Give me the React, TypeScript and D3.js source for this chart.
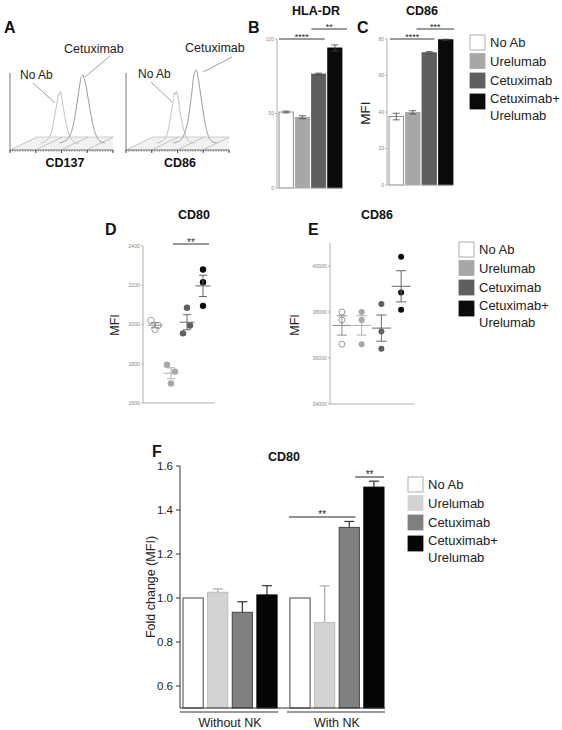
import React from 'react';
import * as d3 from 'd3';

const FONT = "'Liberation Sans', Arial, Helvetica, sans-serif";

// ---------------- Data ----------------
const treatments = ['No Ab', 'Urelumab', 'Cetuximab', 'Cetuximab+Urelumab'];
const legendLines = [['No Ab'], ['Urelumab'], ['Cetuximab'], ['Cetuximab+', 'Urelumab']];

// Panel A – flow cytometry histograms (fluorescence channel, events)
const cd137NoAbChannel = [30, 34, 37, 40, 42, 44, 46, 47, 48, 49, 50, 52, 54, 57, 60, 63, 67];
const cd137NoAbCount = [0, 2, 6, 15, 28, 45, 62, 72, 70, 76, 68, 50, 32, 14, 5, 1, 0];
const cd137CetChannel = [48, 52, 56, 59, 62, 64, 66, 68, 69, 70, 71, 72, 74, 76, 79, 82, 85, 88, 92];
const cd137CetCount = [0, 2, 6, 14, 30, 48, 68, 88, 96, 98, 100, 95, 82, 64, 38, 18, 7, 2, 0];
const cd86NoAbChannel = [30, 34, 37, 40, 42, 44, 46, 47, 48, 49, 50, 52, 54, 57, 60, 63, 67];
const cd86NoAbCount = [0, 2, 5, 13, 27, 46, 64, 74, 71, 76, 70, 52, 33, 15, 5, 1, 0];
const cd86CetChannel = [46, 50, 54, 57, 60, 62, 64, 65, 66, 67, 68, 69, 70, 72, 75, 78, 81, 84, 88];
const cd86CetCount = [0, 2, 6, 15, 32, 52, 75, 90, 100, 105, 107, 104, 96, 76, 45, 20, 7, 2, 0];

// Panel B – HLA-DR MFI
const hlaMeans = [51, 47.5, 76.5, 94];
const hlaErr = [0.6, 1.0, 0.6, 2.0];
const hlaTicks = [0, 50, 100];
// Panel C – CD86 MFI
const cd86Means = [37.5, 39.8, 72.5, 79.6];
const cd86Err = [1.8, 0.9, 0.6, 0.3];
const cd86Ticks = [0, 20, 40, 60, 80];

// Panel D – CD80 MFI, individual donors
const dNoAb = [2020, 1975, 1995];
const dUrelumab = [1795, 1760, 1700];
const dCetuximab = [2085, 1995, 1955];
const dCombo = [2280, 2215, 2095];
const dJitter = [[-4, 0, 3], [-4, 4, 0], [0, 3, -4], [0, 0, 0]];
const dTicks = [1600, 1800, 2000, 2200, 2400];

// Panel E – CD86 MFI, individual donors
const eNoAb = [38000, 37650, 36600];
const eUrelumab = [38000, 37650, 36600];
const eCetuximab = [38350, 37150, 36400];
const eCombo = [40400, 38850, 38100];
const eTicks = [34000, 36000, 38000, 40000];

// Panel F – CD80 fold change
const nkGroups = ['Without NK', 'With NK'];
const fWithoutNK = [1.0, 1.026, 0.935, 1.014];
const fWithoutNKErr = [0, 0.015, 0.048, 0.042];
const fWithNK = [1.0, 0.889, 1.321, 1.504];
const fWithNKErr = [0, 0.166, 0.027, 0.027];
const fTicks = [0.6, 0.8, 1.0, 1.2, 1.4, 1.6];

// ---------------- Styles ----------------
const barColors = ['#ffffff', '#a7a7a7', '#5f5f5f', '#0b0b0b'];
const fColors = ['#ffffff', '#d3d3d3', '#808080', '#050505'];
const fStrokes = ['#444', '#bdbdbd', '#444', '#000'];
const meanColors = ['#8a8a8a', '#b0b0b0', '#6a6a6a', '#666'];

function Legend({ x, y, colors }: any) {
  const tops = [0, 18.5, 38, 59];
  return (
    <g>
      {legendLines.map((lines, i) => (
        <g key={i}>
          <rect x={x} y={y + tops[i]} width={15} height={15} fill={colors[i]}
            stroke={i === 0 ? '#9a9a9a' : colors[i]} strokeWidth={0.8} />
          {lines.length === 1 ? (
            <text x={x + 20} y={y + tops[i] + 12} fontSize={13} fill="#222">{lines[0]}</text>
          ) : (
            <>
              <text x={x + 20} y={y + tops[i] + 8.6} fontSize={13} fill="#222">{lines[0]}</text>
              <text x={x + 20} y={y + tops[i] + 25.6} fontSize={13} fill="#222">{lines[1]}</text>
            </>
          )}
        </g>
      ))}
    </g>
  );
}

function Histogram({ x0, noCh, noCt, ceCh, ceCt, marker, markerX }: any) {
  const hx = d3.scaleLinear().domain([0, 100]).range([x0, x0 + 103]);
  const hy = d3.scaleLinear().domain([0, 110]).range([143, 68]);
  const line = d3.line<number>().curve(d3.curveMonotoneX);
  const noPts = noCh.map((c: number, i: number) => [hx(c), hy(noCt[i])]);
  const cePts = ceCh.map((c: number, i: number) => [hx(c), hy(ceCt[i])]);
  const minor = d3.range(0, 100.01, 2.5);
  const major = [0, 25, 50, 75, 100];
  return (
    <g>
      <polygon points={`${x0 + 2},149 ${x0 + 27},137 ${x0 + 103},137 ${x0 + 103},149`} fill="#f1f1f1" />
      <line x1={x0 + 27} x2={x0 + 103} y1={137} y2={137} stroke="#c4c4c4" strokeWidth={0.8} />
      {[0, 1, 2, 3].map((p) => (
        <line key={p} x1={x0 + 2 + p * 25.5} y1={149} x2={x0 + 27 + p * 25.5} y2={137} stroke="#b5b5b5" strokeWidth={0.8} />
      ))}
      <path d={line(noPts as any) || ''} fill="none" stroke="#c2c2c2" strokeWidth={1} />
      <path d={line(cePts as any) || ''} fill="none" stroke="#9a9a9a" strokeWidth={1} />
      <line x1={x0} x2={x0} y1={73} y2={150} stroke="#555" strokeWidth={0.8} />
      <line x1={x0} x2={x0 + 103} y1={150} y2={150} stroke="#444" strokeWidth={0.8} />
      {minor.map((m) => (
        <line key={m} x1={hx(m)} x2={hx(m)} y1={150} y2={151.8} stroke="#666" strokeWidth={0.6} />
      ))}
      {major.map((m) => (
        <line key={'M' + m} x1={hx(m)} x2={hx(m)} y1={150} y2={153} stroke="#333" strokeWidth={0.9} />
      ))}
      <text x={markerX} y={167} textAnchor="middle" fontSize={12.5} fontWeight="bold" fill="#111">{marker}</text>
    </g>
  );
}

function SmallBars({ axisX, yTopPx, yBotPx, max, ticks, means, errs, xRange, sigs }: any) {
  const y = d3.scaleLinear().domain([0, max]).range([yBotPx, yTopPx]);
  const x = d3.scaleBand<string>().domain(treatments).range(xRange).paddingInner(0.12);
  const bw = x.bandwidth();
  return (
    <g>
      {means.map((m: number, i: number) => {
        const bx = x(treatments[i]) as number;
        const cx = bx + bw / 2;
        return (
          <g key={i}>
            <rect x={bx} y={y(m)} width={bw} height={y(0) - y(m)} fill={barColors[i]}
              stroke={i === 0 ? '#777' : barColors[i]} strokeWidth={0.8} />
            <line x1={cx} x2={cx} y1={y(m - errs[i])} y2={y(m + errs[i])} stroke="#444" strokeWidth={0.8} />
            <line x1={cx - 3.5} x2={cx + 3.5} y1={y(m + errs[i])} y2={y(m + errs[i])} stroke="#444" strokeWidth={0.8} />
            <line x1={cx - 3.5} x2={cx + 3.5} y1={y(m - errs[i])} y2={y(m - errs[i])} stroke="#444" strokeWidth={0.8} />
          </g>
        );
      })}
      <line x1={axisX} x2={axisX} y1={yTopPx} y2={yBotPx} stroke="#999" strokeWidth={0.8} />
      <line x1={axisX} x2={xRange[1]} y1={yBotPx} y2={yBotPx} stroke="#bbb" strokeWidth={0.6} />
      {ticks.map((t: number) => (
        <g key={t}>
          <line x1={axisX - 2} x2={axisX} y1={y(t)} y2={y(t)} stroke="#999" strokeWidth={0.7} />
          <text x={axisX - 3} y={y(t) + 1.8} fontSize={5} textAnchor="end" fill="#888">{t}</text>
        </g>
      ))}
      {sigs.map((s: any, i: number) => {
        const x1 = (x(treatments[s.a]) as number) + s.padL;
        const x2 = (x(treatments[s.b]) as number) + bw + s.padR;
        return (
          <g key={i}>
            <line x1={x1} x2={x2} y1={s.y} y2={s.y} stroke="#222" strokeWidth={0.9} />
            <text x={(x1 + x2) / 2} y={s.y + 1.2} fontSize={9} textAnchor="middle" fill="#222">{s.label}</text>
          </g>
        );
      })}
    </g>
  );
}

function DotPanel({ axisX, axisEnd, yTopPx, yBotPx, domain, ticks, xRange, groups, jitter, meanHalf, capHalf, r }: any) {
  const y = d3.scaleLinear().domain(domain).range([yBotPx, yTopPx]);
  const x = d3.scaleBand<string>().domain(treatments).range(xRange);
  const bw = x.bandwidth();
  return (
    <g>
      <line x1={axisX} x2={axisX} y1={yTopPx} y2={yBotPx} stroke="#999" strokeWidth={0.8} />
      <line x1={axisX} x2={axisEnd} y1={yBotPx} y2={yBotPx} stroke="#999" strokeWidth={0.8} />
      {ticks.map((t: number) => (
        <g key={t}>
          <line x1={axisX - 2} x2={axisX} y1={y(t)} y2={y(t)} stroke="#999" strokeWidth={0.7} />
          <text x={axisX - 3} y={y(t) + 1.8} fontSize={5.2} textAnchor="end" fill="#888">{t}</text>
        </g>
      ))}
      {groups.map((vals: number[], gi: number) => {
        const cx = (x(treatments[gi]) as number) + bw / 2;
        const m = d3.mean(vals) as number;
        const sem = (d3.deviation(vals) as number) / Math.sqrt(vals.length);
        return (
          <g key={gi}>
            {vals.map((v, i) => (
              <circle key={i} cx={cx + (jitter ? jitter[gi][i] : 0)} cy={y(v)} r={r}
                fill={gi === 0 ? '#fff' : barColors[gi]} stroke={gi === 0 ? '#999' : 'none'} strokeWidth={1} />
            ))}
            <line x1={cx - meanHalf} x2={cx + meanHalf} y1={y(m)} y2={y(m)} stroke={meanColors[gi]} strokeWidth={1} />
            <line x1={cx} x2={cx} y1={y(m - sem)} y2={y(m + sem)} stroke={meanColors[gi]} strokeWidth={1} />
            <line x1={cx - capHalf} x2={cx + capHalf} y1={y(m + sem)} y2={y(m + sem)} stroke={meanColors[gi]} strokeWidth={1} />
            <line x1={cx - capHalf} x2={cx + capHalf} y1={y(m - sem)} y2={y(m - sem)} stroke={meanColors[gi]} strokeWidth={1} />
          </g>
        );
      })}
    </g>
  );
}

function PanelF() {
  const fy = d3.scaleLinear().domain([0.5, 1.6]).range([708, 466]);
  const fx0 = d3.scaleBand<string>().domain(nkGroups).range([183, 384]).paddingInner(0.12);
  const fx1 = d3.scaleBand<string>().domain(treatments).range([0, fx0.bandwidth()]).paddingInner(0.18);
  const series = [
    { g: nkGroups[0], vals: fWithoutNK, errs: fWithoutNKErr },
    { g: nkGroups[1], vals: fWithNK, errs: fWithNKErr },
  ];
  const bw = fx1.bandwidth();
  const barX = (g: string, i: number) => (fx0(g) as number) + (fx1(treatments[i]) as number);
  const sig = [
    { g: 1, a: 0, b: 2, padL: -1, padR: -4, y: 517 },
    { g: 1, a: 2, b: 3, padL: 16, padR: 0, y: 477 },
  ];
  return (
    <g>
      {series.map((s) => s.vals.map((v, i) => {
        const bx = barX(s.g, i);
        const cx = bx + bw / 2;
        const top = fy(v + s.errs[i]);
        return (
          <g key={s.g + i}>
            {s.errs[i] > 0 && (
              <g>
                <line x1={cx} x2={cx} y1={fy(v)} y2={top} stroke={i === 1 ? '#aaa' : '#333'} strokeWidth={1.2} />
                <line x1={cx - 5} x2={cx + 5} y1={top} y2={top} stroke={i === 1 ? '#aaa' : '#333'} strokeWidth={1.2} />
              </g>
            )}
            <rect x={bx} y={fy(v)} width={bw} height={fy(0.5) - fy(v)} fill={fColors[i]} stroke={fStrokes[i]} strokeWidth={1} />
          </g>
        );
      }))}
      <line x1={180} x2={180} y1={466} y2={708} stroke="#333" strokeWidth={1} />
      <line x1={180} x2={385} y1={708} y2={708} stroke="#333" strokeWidth={1} />
      {fTicks.map((t) => (
        <g key={t}>
          <line x1={176} x2={180} y1={fy(t)} y2={fy(t)} stroke="#333" strokeWidth={1} />
          <text x={173} y={fy(t) + 4} fontSize={11.5} textAnchor="end" fill="#222">{d3.format('.1f')(t)}</text>
        </g>
      ))}
      {nkGroups.map((g) => {
        const gx = fx0(g) as number;
        return (
          <g key={g}>
            <line x1={gx - 3} x2={gx + fx0.bandwidth() + 1} y1={712} y2={712} stroke="#333" strokeWidth={1} />
            <text x={gx + fx0.bandwidth() / 2} y={727} fontSize={12.5} textAnchor="middle" fill="#222">{g}</text>
          </g>
        );
      })}
      {sig.map((s, i) => {
        const g = nkGroups[s.g];
        const x1 = barX(g, s.a) + s.padL;
        const x2 = barX(g, s.b) + bw + s.padR;
        return (
          <g key={i}>
            <line x1={x1} x2={x2} y1={s.y} y2={s.y} stroke="#222" strokeWidth={1} />
            <text x={(x1 + x2) / 2} y={s.y + 1} fontSize={10} textAnchor="middle" fill="#222">**</text>
          </g>
        );
      })}
      <text transform="translate(155,587) rotate(-90)" fontSize={12.5} textAnchor="middle" fill="#222">Fold change (MFI)</text>
      <text x={284} y={461} fontSize={12.5} fontWeight="bold" textAnchor="middle" fill="#111">CD80</text>
    </g>
  );
}

export default function App() {
  return (
    <svg width={562} height={730} viewBox="0 0 562 730"
      style={{ position: 'absolute', left: 0, top: 0, background: '#fff', fontFamily: FONT }}>
      <rect x={0} y={0} width={562} height={730} fill="#fff" />
      {/* Panel A */}
      <text x={4} y={33} fontSize={16} fontWeight="bold" fill="#111">A</text>
      <Histogram x0={10} noCh={cd137NoAbChannel} noCt={cd137NoAbCount} ceCh={cd137CetChannel} ceCt={cd137CetCount}
        marker="CD137" markerX={65} />
      <Histogram x0={126} noCh={cd86NoAbChannel} noCt={cd86NoAbCount} ceCh={cd86CetChannel} ceCt={cd86CetCount}
        marker="CD86" markerX={180} />
      <text x={20} y={79} fontSize={12} fill="#222">No Ab</text>
      <line x1={33} y1={83} x2={55} y2={103} stroke="#777" strokeWidth={0.7} />
      <text x={64} y={53} fontSize={12.5} fill="#222">Cetuximab</text>
      <line x1={110} y1={56} x2={85} y2={77} stroke="#777" strokeWidth={0.7} />
      <text x={138} y={78} fontSize={12} fill="#222">No Ab</text>
      <line x1={151} y1={82} x2={172} y2={102} stroke="#777" strokeWidth={0.7} />
      <text x={185} y={52} fontSize={12.5} fill="#222">Cetuximab</text>
      <line x1={232} y1={57} x2={203} y2={72} stroke="#777" strokeWidth={0.7} />

      {/* Panel B */}
      <text x={248} y={33} fontSize={16} fontWeight="bold" fill="#111">B</text>
      <text x={316} y={15} fontSize={12.5} fontWeight="bold" textAnchor="middle" fill="#111">HLA-DR</text>
      <SmallBars axisX={277} yTopPx={39} yBotPx={188} max={100} ticks={hlaTicks} means={hlaMeans} errs={hlaErr}
        xRange={[279, 342]}
        sigs={[{ a: 0, b: 2, padL: 0, padR: -1, y: 39, label: '****' }, { a: 2, b: 3, padL: 0, padR: 5, y: 29, label: '**' }]} />

      {/* Panel C */}
      <text x={357} y={33} fontSize={16} fontWeight="bold" fill="#111">C</text>
      <text x={422} y={15} fontSize={12.5} fontWeight="bold" textAnchor="middle" fill="#111">CD86</text>
      <text transform="translate(370,113) rotate(-90)" fontSize={13.5} textAnchor="middle" fill="#222">MFI</text>
      <SmallBars axisX={387} yTopPx={39} yBotPx={185} max={80} ticks={cd86Ticks} means={cd86Means} errs={cd86Err}
        xRange={[389, 453]}
        sigs={[{ a: 0, b: 2, padL: 1, padR: -2, y: 39, label: '****' }, { a: 1, b: 3, padL: 11, padR: 1, y: 29, label: '***' }]} />
      <Legend x={470} y={35} colors={barColors} />

      {/* Panel D */}
      <text x={105} y={235} fontSize={16} fontWeight="bold" fill="#111">D</text>
      <text x={194} y={219} fontSize={12.5} fontWeight="bold" textAnchor="middle" fill="#111">CD80</text>
      <text transform="translate(119,325) rotate(-90)" fontSize={12.5} textAnchor="middle" fill="#222">MFI</text>
      <DotPanel axisX={143} axisEnd={215} yTopPx={246} yBotPx={403} domain={[1600, 2400]} ticks={dTicks}
        xRange={[147, 211]} groups={[dNoAb, dUrelumab, dCetuximab, dCombo]} jitter={dJitter}
        meanHalf={7.5} capHalf={4} r={3.2} />
      <line x1={173} x2={209} y1={244} y2={244} stroke="#777" strokeWidth={1.4} />
      <text x={191} y={246} fontSize={10} textAnchor="middle" fill="#333">**</text>

      {/* Panel E */}
      <text x={308} y={235} fontSize={16} fontWeight="bold" fill="#111">E</text>
      <text x={377} y={219} fontSize={12.5} fontWeight="bold" textAnchor="middle" fill="#111">CD86</text>
      <text transform="translate(299,325) rotate(-90)" fontSize={12.5} textAnchor="middle" fill="#222">MFI</text>
      <DotPanel axisX={330} axisEnd={414} yTopPx={243} yBotPx={404} domain={[34000, 41000]} ticks={eTicks}
        xRange={[332, 411]} groups={[eNoAb, eUrelumab, eCetuximab, eCombo]} jitter={null}
        meanHalf={9.5} capHalf={5} r={3} />
      <Legend x={459} y={242} colors={barColors} />

      {/* Panel F */}
      <text x={152} y={457} fontSize={16} fontWeight="bold" fill="#111">F</text>
      <PanelF />
      <Legend x={408} y={477} colors={fColors} />
    </svg>
  );
}
